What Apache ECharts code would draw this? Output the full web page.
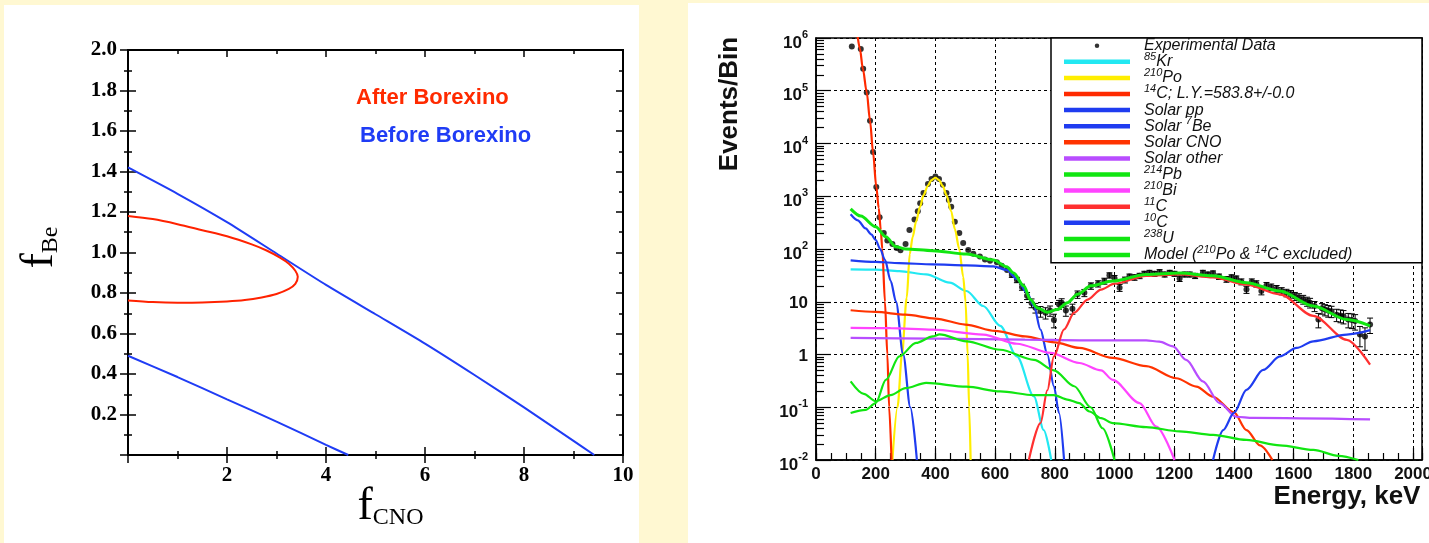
<!DOCTYPE html>
<html><head><meta charset="utf-8">
<script src="https://cdn.jsdelivr.net/npm/echarts@6/dist/echarts.min.js"></script>
<style>
html,body{margin:0;padding:0;width:1429px;height:543px;overflow:hidden;background:#fff8d2;}
#p1{position:absolute;left:4px;top:5px;width:635px;height:538px;background:#fff;}
#p2{position:absolute;left:688px;top:3px;width:741px;height:540px;background:#fff;}
#chart{position:absolute;left:0;top:0;width:1429px;height:543px;}
</style></head><body>
<div id="p1"></div><div id="p2"></div><div id="chart"></div>
<script>
// ---------- Left panel data (f_CNO vs f_Be) ----------
const upperBlueX = [0, 1, 2, 3, 4, 5, 6, 7, 8, 9, 9.42];
const upperBlueY = [1.42, 1.29, 1.15, 0.995, 0.84, 0.695, 0.55, 0.395, 0.235, 0.07, 0];
const lowerBlueX = [0, 1, 2, 3, 4, 4.45];
const lowerBlueY = [0.49, 0.385, 0.275, 0.165, 0.05, 0];
const redContourX = [0, 0.5, 1.0, 1.5, 2.0, 2.5, 2.8, 3.07, 3.25, 3.38, 3.43, 3.38, 3.25, 3.0, 2.7, 2.36, 2.0, 1.5, 1.0, 0.5, 0];
const redContourY = [1.18, 1.165, 1.14, 1.11, 1.08, 1.04, 1.01, 0.975, 0.945, 0.91, 0.88, 0.845, 0.82, 0.795, 0.778, 0.765, 0.758, 0.753, 0.752, 0.755, 0.763];
const leftAnnotations = ['After Borexino', 'Before Borexino'];

// ---------- Right panel data (Energy spectrum) ----------
// [energy keV, events/bin, error]
const expPoints = [
 [120,690000,0],[150,620000,0],[158,260000,0],[170,93000,0],[181,27000,0],[191,6900,0],[202,1500,0],[213,400,0],
 [227,200,0],[239,145,0],[256,125,0],[270,105,0],[283,95,0],[300,125,0],[313,230,0],[330,363,0],[341,520,0],
 [349,740,0],[360,1150,0],[375,1700,0],[387,2130,0],[400,2360,0],[412,2130,0],[425,1650,0],[437,1150,0],
 [445,850,0],[453,630,0],[465,330,0],[480,200,0],[493,130,0],[510,96,0],[527,81,0],[549,72,0],[566,63,0],
 [583,60,0],[606,56,0],[622,48,0],[640,40,0],[656,32,3],[673,26,3],[690,19,2.5],[707,13,2],[722,9.5,1.8],
 [735,7.7,1.6],[752,6.6,1.5],[769,6.2,1.5],[784,6.8,1.5],[797,4.5,1.3],[814,8.9,1.7],[823,9.6,1.8],
 [837,6.8,1.5],[859,7.4,1.6],[876,13.8,2.2],[899,14.8,2.3],[921,20,2.8],[945,22,3],[966,24.7,3.2],
 [983,31.7,3.6],[1000,28,3.4],[1017,18.5,2.8],[1035,26,3.3],[1050,30,3.5],[1067,29,3.5],[1084,31,3.6],
 [1100,34,3.8],[1117,35.6,3.8],[1134,34,3.7],[1151,36.7,3.9],[1168,33,3.6],[1185,35.6,3.8],[1201,34,3.7],
 [1218,27.5,3.3],[1235,33,3.6],[1252,33,3.6],[1270,31,3.5],[1296,35.6,3.8],[1313,33,3.6],[1330,34.7,3.7],
 [1350,30,3.5],[1375,26.7,3.3],[1392,29,3.4],[1408,27.5,3.3],[1425,24,3.1],[1442,17,2.6],[1460,24,3.1],
 [1475,22,3.0],[1492,16,2.5],[1509,20.4,2.8],[1525,19,2.7],[1543,17.7,2.6],[1560,16,2.5],[1576,14.8,2.4],
 [1590,14,2.3],[1604,12.8,2.2],[1618,12,2.2],[1632,11.1,2.1],[1645,10.2,2.0],[1655,9.6,2.0],[1670,8.3,1.8],
 [1683,4.6,1.4],[1695,7.5,1.7],[1705,7.1,1.7],[1716,6.8,1.7],[1727,6.6,1.6],[1744,5.7,1.5],[1757,5.5,1.5],
 [1767,5.3,1.5],[1783,4.6,1.4],[1795,4.5,1.4],[1806,4.3,1.4],[1822,2.4,1.0],[1839,2.2,1.0],[1856,3.7,1.2]
];
const kr85 = [[116,41],[200,40.5],[279,38],[369,33],[448,23],[504,16],[560,8.3],[617,3.5],[673,0.92],[730,0.16],[763,0.037],[788,0.01]];
const po210 = [[256,0.01],[273,0.1],[288,1],[304,12],[314,80],[324,170],[335,330],[349,640],[360,1050],[375,1600],[387,2030],[400,2260],[412,2030],[425,1550],[437,1050],[453,520],[465,240],[480,100],[493,30],[501,10],[508,1],[513,0.1],[518,0.01]];
const c14 = [[138,1250000],[147,630000],[157,260000],[170,93000],[181,27000],[191,6900],[202,1500],[210,600],[217,230],[222,100],[231,10],[239,1],[245,0.1],[253,0.01]];
const solarPP = [[116,455],[140,350],[166,245],[185,190],[200,148],[215,100],[231,62],[250,25],[268,10],[292,1],[316,0.1],[338,0.01]];
const solarBe7 = [[116,61],[200,57],[279,54],[391,51],[504,49],[594,47],[639,40],[673,27],[707,14.8],[730,8.3],[752,2.96],[775,1.0],[797,0.25],[814,0.078],[831,0.01]];
const solarCNO = [[116,6.9],[200,6.4],[300,5.7],[400,4.8],[500,3.7],[600,2.8],[700,2.2],[800,1.7],[882,1.33],[994,0.86],[1106,0.6],[1207,0.355],[1274,0.246],[1330,0.158],[1400,0.08],[1442,0.037],[1487,0.019],[1529,0.01]];
const solarOther = [[116,2.06],[400,2.0],[700,1.92],[882,1.86],[1106,1.86],[1150,1.75],[1196,1.43],[1240,0.79],[1296,0.31],[1352,0.12],[1408,0.066],[1464,0.063],[1856,0.059]];
const pb214 = [[116,0.078],[166,0.089],[200,0.12],[234,0.33],[279,0.92],[335,1.66],[391,2.2],[414,2.4],[504,1.78],[617,1.23],[730,0.79],[797,0.5],[865,0.25],[920,0.1],[960,0.04],[1000,0.01]];
const bi210 = [[116,3.2],[250,3.15],[391,2.96],[560,2.39],[673,1.6],[786,1.07],[882,0.69],[955,0.5],[994,0.33],[1084,0.12],[1140,0.043],[1201,0.01]];
const c11 = [[713,0.01],[752,0.05],[775,0.21],[797,0.92],[831,3.0],[865,6.2],[910,11],[955,17],[1000,22],[1106,31],[1218,33],[1330,29],[1442,21],[1554,13.8],[1666,5.4],[1778,1.9],[1856,0.64]];
const c10 = [[1330,0.01],[1364,0.037],[1400,0.078],[1442,0.214],[1498,0.51],[1554,0.92],[1610,1.33],[1666,1.78],[1778,2.39],[1856,2.89]];
const u238 = [[116,0.31],[160,0.18],[200,0.13],[250,0.17],[300,0.23],[369,0.29],[504,0.245],[617,0.2],[730,0.17],[797,0.17],[842,0.14],[882,0.12],[916,0.083],[955,0.062],[994,0.05],[1106,0.042],[1218,0.035],[1330,0.03],[1442,0.024],[1554,0.019],[1666,0.0155],[1750,0.012],[1817,0.01]];
const modelSum = [[116,575],[150,420],[200,263],[234,170],[268,110],[300,100],[391,93],[504,80],[594,62],[639,46],[662,35],[696,20],[718,11],[741,7.7],[775,6.3],[808,7.1],[842,9.6],[876,13.8],[921,20],[994,24.7],[1106,33],[1218,35],[1330,31],[1442,23],[1554,16],[1666,8.3],[1778,4.6],[1856,3.5]];

const seriesNames = ['Experimental Data','85Kr','210Po','14C; L.Y.=583.8+/-0.0','Solar pp','Solar 7Be','Solar CNO','Solar other','214Pb','210Bi','11C','10C','238U','Model (210Po & 14C excluded)'];
const Z = '{sup|\u200b}';
const legendLabels = {
  'Experimental Data': Z + '{m|Experimental Data}',
  '85Kr': '{sup|85}{m|Kr}',
  '210Po': '{sup|210}{m|Po}',
  '14C; L.Y.=583.8+/-0.0': '{sup|14}{m|C; L.Y.=583.8+/-0.0}',
  'Solar pp': Z + '{m|Solar pp}',
  'Solar 7Be': '{m|Solar }{sup|7}{m|Be}',
  'Solar CNO': Z + '{m|Solar CNO}',
  'Solar other': Z + '{m|Solar other}',
  '214Pb': '{sup|214}{m|Pb}',
  '210Bi': '{sup|210}{m|Bi}',
  '11C': '{sup|11}{m|C}',
  '10C': '{sup|10}{m|C}',
  '238U': '{sup|238}{m|U}',
  'Model (210Po & 14C excluded)': '{m|Model (}{sup|210}{m|Po & }{sup|14}{m|C excluded)}'
};
const seriesColors = ['#000000','#22e8f2','#ffee00','#ff2a00','#1f3cf0','#1f3cf0','#ff3300','#b84dff','#11e611','#ff44ff','#ff3030','#1f3cf0','#11e611','#11e611'];
const seriesData = [null, kr85, po210, c14, solarPP, solarBe7, solarCNO, solarOther, pb214, bi210, c11, c10, u238, modelSum];
const minorMultipliers = [2,3,4,5,6,7,8,9];
const decadeExponents = [-2,-1,0,1,2,3,4,5];

const serif = 'Liberation Serif, Times New Roman, serif';
const sans = 'Liberation Sans, Arial, Helvetica, sans-serif';

const minorLogTicks = [];
decadeExponents.forEach(e => minorMultipliers.forEach(m => minorLogTicks.push(m * Math.pow(10, e))));

function zip(xs, ys){ return xs.map((x,i)=>[x, ys[i]]); }

const chart = echarts.init(document.getElementById('chart'), null, {renderer:'canvas'});

const blk = '#000';
const leftTickBase = {gridIndex: 0, type: 'value', min: 0, max: 10, interval: 2, splitLine: {show:false}};
const leftYBase = {gridIndex: 0, type: 'value', min: 0, max: 2, interval: 0.2, splitLine: {show:false}};

const series = [];
series.push({type:'line', xAxisIndex:0, yAxisIndex:0, data: zip(upperBlueX, upperBlueY), showSymbol:false, smooth:0.2, lineStyle:{color:'#1f3cf5', width:2}, silent:true});
series.push({type:'line', xAxisIndex:0, yAxisIndex:0, data: zip(lowerBlueX, lowerBlueY), showSymbol:false, smooth:0.2, lineStyle:{color:'#1f3cf5', width:2}, silent:true});
series.push({type:'line', xAxisIndex:0, yAxisIndex:0, data: zip(redContourX, redContourY), showSymbol:false, smooth:0.3, lineStyle:{color:'#ff2200', width:2}, silent:true});

series.push({
  type:'custom', name:'errbars', xAxisIndex:3, yAxisIndex:3, z:2, silent:true,
  data: expPoints, encode:{x:0, y:1},
  renderItem: function(params, api){
    const x = api.value(0), y = api.value(1), e = api.value(2);
    if (!e) return null;
    const lo = Math.max(y - e, 0.011);
    const t = api.coord([x, y + e]);
    const b = api.coord([x, lo]);
    const st = {stroke:'#000', lineWidth:1};
    return {type:'group', children:[
      {type:'line', shape:{x1:t[0], y1:t[1], x2:b[0], y2:b[1]}, style:st},
      {type:'line', shape:{x1:t[0]-3, y1:t[1], x2:t[0]+3, y2:t[1]}, style:st},
      {type:'line', shape:{x1:b[0]-3, y1:b[1], x2:b[0]+3, y2:b[1]}, style:st}
    ]};
  }
});
series.push({type:'scatter', name: seriesNames[0], xAxisIndex:3, yAxisIndex:3, z:2, symbolSize:6,
  itemStyle:{color:'#000'}, data: expPoints.map(p=>[p[0], p[1]]), silent:true});
for (let i=1;i<seriesNames.length;i++){
  series.push({type:'line', name: seriesNames[i], xAxisIndex:3, yAxisIndex:3, z:3,
    data: seriesData[i], showSymbol:false, smooth:0.3, smoothMonotone:'x', clip:true, silent:true,
    itemStyle:{color: seriesColors[i]},
    lineStyle:{color: seriesColors[i], width: i===13 ? 3 : 2.2}});
}

const option = {
  animation:false,
  backgroundColor:'transparent',
  textStyle:{fontFamily: sans},
  title:[
    {text: leftAnnotations[0], left:356, top:87, padding:0, textStyle:{color:'#ff2a00', fontSize:22, fontWeight:'bold', fontFamily:sans}},
    {text: leftAnnotations[1], left:360, top:125, padding:0, textStyle:{color:'#1f3cf5', fontSize:22, fontWeight:'bold', fontFamily:sans}}
  ],
  grid:[
    {left:128, top:50, width:495, height:405, show:true, borderColor:blk, borderWidth:2, backgroundColor:'transparent', outerBoundsMode:'none', containLabel:false},
    {left:816, top:38, width:606, height:422, show:true, borderColor:blk, borderWidth:1.5, backgroundColor:'transparent', outerBoundsMode:'none', containLabel:false}
  ],
  graphic:[
    {type:'rect', z:3, shape:{x:1051, y:38, width:371, height:224.7}, style:{fill:'#fff', stroke:'#000', lineWidth:1.5}}
  ],
  legend:{
    data: seriesNames.map((n,i)=> i===0 ? {name:n, icon:'circle'} : {name:n, icon:'rect'}),
    orient:'vertical', left:1064, top:35.2, padding:0, itemWidth:66, itemHeight:4.5, itemGap:-4.9,
    selectedMode:false, z:5,
    formatter: n => legendLabels[n],
    textStyle:{color:'#111', fontFamily:sans, fontStyle:'italic', fontSize:16, padding:[0,0,0,9],
      rich:{
        m:{fontFamily:sans, fontStyle:'italic', fontSize:16, color:'#111'},
        sup:{fontFamily:sans, fontStyle:'italic', fontSize:11, lineHeight:11, padding:[0,0,10,0], verticalAlign:'middle', color:'#111'}
      }}
  },
  xAxis:[
    Object.assign({}, leftTickBase, {position:'bottom',
      axisLine:{onZero:false, lineStyle:{color:blk, width:2}},
      axisTick:{inside:false, length:8, lineStyle:{color:blk, width:1.5}},
      minorTick:{show:true, splitNumber:2, length:4, lineStyle:{color:blk, width:1.5}},
      axisLabel:{margin:10, color:blk, fontFamily:serif, fontWeight:'bold', fontSize:21, formatter: v => v===0 ? '' : String(v)},
      name:'{f|f}{s|CNO}', nameLocation:'middle', nameGap:29, nameMoveOverlap:false,
      nameTextStyle:{padding:[0,0,0,30], rich:{
        f:{fontFamily:serif, fontSize:46, lineHeight:46, verticalAlign:'top', color:blk},
        s:{fontFamily:serif, fontSize:24, lineHeight:24, padding:[44,0,0,0], verticalAlign:'bottom', color:blk}}}
    }),
    Object.assign({}, leftTickBase, {position:'bottom',
      axisLine:{show:false, onZero:false},
      axisTick:{inside:true, length:8, lineStyle:{color:blk, width:1.5}},
      minorTick:{show:true, splitNumber:2, length:4, lineStyle:{color:blk, width:1.5}},
      axisLabel:{show:false}}),
    Object.assign({}, leftTickBase, {position:'top',
      axisLine:{show:true, onZero:false, lineStyle:{color:blk, width:2}},
      axisTick:{inside:true, length:7, lineStyle:{color:blk, width:1.5}},
      minorTick:{show:true, splitNumber:2, length:4, lineStyle:{color:blk, width:1.5}},
      axisLabel:{show:false}}),
    {gridIndex:1, type:'value', min:0, max:2030, interval:200, position:'bottom',
      axisLine:{onZero:false, lineStyle:{color:blk, width:1.5}},
      axisTick:{inside:true, length:12, lineStyle:{color:blk, width:1.2}},
      axisLabel:{margin:6, color:'#111', fontFamily:sans, fontWeight:'bold', fontSize:17, formatter: v => v>2000 ? '' : String(v)},
      splitLine:{show:true, lineStyle:{color:blk, width:1, type:[3,3]}},
      name:'Energy, keV', nameLocation:'middle', nameGap:24, nameMoveOverlap:false,
      nameTextStyle:{color:'#111', fontFamily:sans, fontWeight:'bold', fontSize:26, lineHeight:26, padding:[0,0,0,456]}},
    {gridIndex:1, type:'value', min:0, max:2030, interval:50, position:'bottom',
      axisLine:{show:false, onZero:false},
      axisTick:{inside:true, length:7, lineStyle:{color:blk, width:1.2}},
      axisLabel:{show:false}, splitLine:{show:false}}
  ],
  yAxis:[
    Object.assign({}, leftYBase, {position:'left',
      axisLine:{onZero:false, lineStyle:{color:blk, width:2}},
      axisTick:{inside:false, length:8, lineStyle:{color:blk, width:1.5}},
      minorTick:{show:true, splitNumber:2, length:4, lineStyle:{color:blk, width:1.5}},
      axisLabel:{margin:11, color:blk, fontFamily:serif, fontWeight:'bold', fontSize:21, formatter: v => v===0 ? '' : v.toFixed(1)},
      name:'{f|f}{s|Be}', nameLocation:'middle', nameGap:65, nameRotate:90, nameMoveOverlap:false,
      nameTextStyle:{padding:[0,0,0,10], rich:{
        f:{fontFamily:serif, fontSize:46, lineHeight:46, verticalAlign:'top', color:blk},
        s:{fontFamily:serif, fontSize:24, lineHeight:24, padding:[44,0,0,0], verticalAlign:'bottom', color:blk}}}
    }),
    Object.assign({}, leftYBase, {position:'left',
      axisLine:{show:false, onZero:false},
      axisTick:{inside:true, length:8, lineStyle:{color:blk, width:1.5}},
      minorTick:{show:true, splitNumber:2, length:4, lineStyle:{color:blk, width:1.5}},
      axisLabel:{show:false}}),
    Object.assign({}, leftYBase, {position:'right',
      axisLine:{show:true, onZero:false, lineStyle:{color:blk, width:2}},
      axisTick:{inside:true, length:7, lineStyle:{color:blk, width:1.5}},
      minorTick:{show:true, splitNumber:2, length:4, lineStyle:{color:blk, width:1.5}},
      axisLabel:{show:false}}),
    {gridIndex:1, type:'log', logBase:10, min:0.01, max:1000000, splitNumber:8, position:'left',
      axisLine:{onZero:false, lineStyle:{color:blk, width:1.5}},
      axisTick:{inside:true, length:15, lineStyle:{color:blk, width:1.2}},
      splitLine:{show:true, lineStyle:{color:blk, width:1, type:[3,3]}},
      axisLabel:{margin:8, color:'#111', formatter: function(v){
          const e = Math.round(Math.log10(v));
          if (e === 0) return '{p|1}';
          if (e === 1) return '{p|10}';
          return '{b|10}{s|' + e + '}';
        },
        rich:{
          p:{fontFamily:sans, fontWeight:'bold', fontSize:17, lineHeight:17, padding:[4,0,0,0], color:'#111'},
          b:{fontFamily:sans, fontWeight:'bold', fontSize:17, lineHeight:17, padding:[10,0,0,0], verticalAlign:'middle', color:'#111'},
          s:{fontFamily:sans, fontWeight:'bold', fontSize:11, lineHeight:12, padding:[0,0,6,0], verticalAlign:'middle', color:'#111'}
        }},
      name:'Events/Bin', nameLocation:'middle', nameGap:73, nameRotate:90, nameMoveOverlap:false,
      nameTextStyle:{color:'#111', fontFamily:sans, fontWeight:'bold', fontSize:26, lineHeight:26, padding:[0,0,0,290]}},
    {gridIndex:1, type:'log', logBase:10, min:0.01, max:1000000, position:'left',
      axisLine:{show:false, onZero:false},
      axisTick:{inside:true, length:8, customValues: minorLogTicks, lineStyle:{color:blk, width:1.2}},
      axisLabel:{show:false}, splitLine:{show:false}}
  ],
  series: series
};
chart.setOption(option);
</script></body></html>
